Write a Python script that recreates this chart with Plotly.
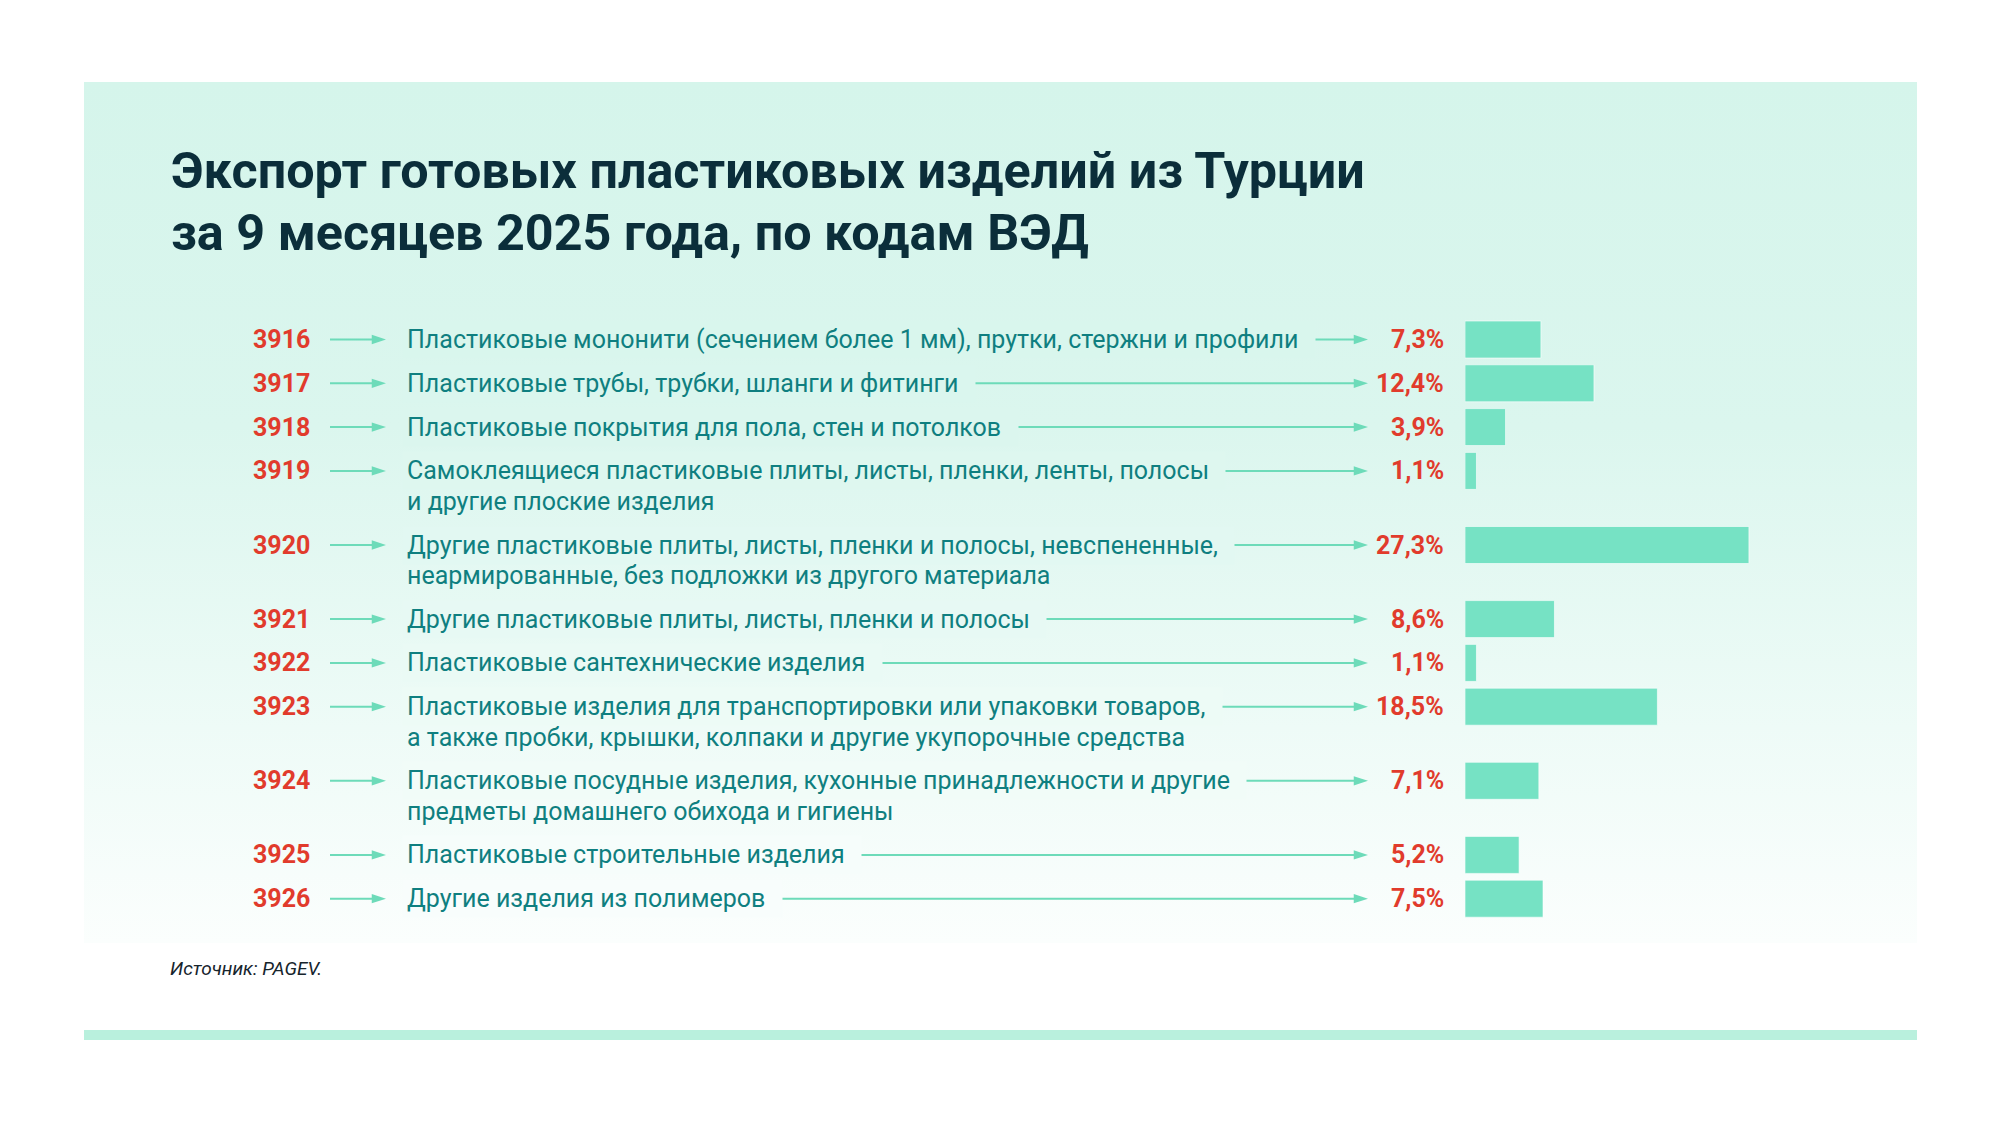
import plotly.graph_objects as go

# данные
codes = ["3916", "3917", "3918", "3919", "3920", "3921",
         "3922", "3923", "3924", "3925", "3926"]
descriptions = [
    "Пластиковые мононити (сечением более 1 мм), прутки, стержни и профили",
    "Пластиковые трубы, трубки, шланги и фитинги",
    "Пластиковые покрытия для пола, стен и потолков",
    "Самоклеящиеся пластиковые плиты, листы, пленки, ленты, полосы\nи другие плоские изделия",
    "Другие пластиковые плиты, листы, пленки и полосы, невспененные,\nнеармированные, без подложки из другого материала",
    "Другие пластиковые плиты, листы, пленки и полосы",
    "Пластиковые сантехнические изделия",
    "Пластиковые изделия для транспортировки или упаковки товаров,\nа также пробки, крышки, колпаки и другие укупорочные средства",
    "Пластиковые посудные изделия, кухонные принадлежности и другие\nпредметы домашнего обихода и гигиены",
    "Пластиковые строительные изделия",
    "Другие изделия из полимеров",
]
shares = [7.3, 12.4, 3.9, 1.1, 27.3, 8.6, 1.1, 18.5, 7.1, 5.2, 7.5]

title_lines = ["Экспорт готовых пластиковых изделий из Турции",
               "за 9 месяцев 2025 года, по кодам ВЭД"]
source = "Источник: PAGEV."

# оформление
W, H = 2000, 1125
PANEL_X0, PANEL_X1, PANEL_Y0, PANEL_Y1 = 84, 1917, 82, 943
ROW_START, ROW_STEP, EXTRA_LINE = 339.5, 43.8, 30.3
LINE_OFFSET = 30.5
CODE_X, LARROW_X0, LARROW_X1 = 251, 330, 386
DESC_X, RARROW_X1, PCT_X = 402, 1368, 1446
BAR_X0, PX_PER_PCT = 1465, 10.4
TITLE_X, TITLE_Y0, TITLE_STEP = 169, 170.5, 62

RED = "#e13b2c"
TEAL = "#0f7f80"
ARROW = "#6ddbb9"
BAR = "#76e2c4"
DARK = "#0b2e3a"
FONT = "Roboto"

grad_stops = [(0.0, (213, 245, 235)), (0.4, (219, 246, 238)),
              (0.75, (238, 251, 247)), (1.0, (251, 254, 253))]


def grad_color(y):
    t = (y - PANEL_Y0) / (PANEL_Y1 - PANEL_Y0)
    t = min(max(t, 0), 1)
    for (t0, c0), (t1, c1) in zip(grad_stops[:-1], grad_stops[1:]):
        if t <= t1:
            k = (t - t0) / (t1 - t0)
            c = [round(a + (b - a) * k) for a, b in zip(c0, c1)]
            return "rgb(%d,%d,%d)" % tuple(c)
    return "rgb(%d,%d,%d)" % grad_stops[-1][1]


# позиции строк
row_y = []
y = ROW_START
for d in descriptions:
    row_y.append(y)
    y += ROW_STEP + EXTRA_LINE * d.count("\n")

fig = go.Figure()

# фон-панель с градиентом
fig.add_trace(go.Scatter(
    x=[PANEL_X0, PANEL_X1, PANEL_X1, PANEL_X0, PANEL_X0],
    y=[PANEL_Y0, PANEL_Y0, PANEL_Y1, PANEL_Y1, PANEL_Y0],
    mode="lines", line=dict(width=0), fill="toself",
    fillgradient=dict(type="vertical",
                      colorscale=[[t, "rgb(%d,%d,%d)" % c] for t, c in grad_stops],
                      start=PANEL_Y0, stop=PANEL_Y1),
    hoverinfo="skip", showlegend=False))

# стрелки
lx, ly, rx, ry = [], [], [], []
for yy in row_y:
    lx += [LARROW_X0, LARROW_X1 - 6, None]
    ly += [yy, yy, None]
    rx += [DESC_X + 60, RARROW_X1 - 6, None]
    ry += [yy, yy, None]
for xs, ys, tip in [(lx, ly, LARROW_X1), (rx, ry, RARROW_X1)]:
    fig.add_trace(go.Scatter(x=xs, y=ys, mode="lines",
                             line=dict(color=ARROW, width=2),
                             hoverinfo="skip", showlegend=False))
    fig.add_trace(go.Scatter(x=[tip] * len(row_y), y=row_y, mode="markers",
                             marker=dict(symbol="arrow", angle=90, size=15,
                                         color=ARROW, line=dict(width=0)),
                             hoverinfo="skip", showlegend=False))

# столбики
fig.add_trace(go.Bar(
    x=shares, y=row_y, orientation="h", xaxis="x2", yaxis="y",
    width=37, marker=dict(color=BAR, line=dict(color="rgba(255,255,255,0.6)", width=1)),
    hoverinfo="skip", showlegend=False))

annotations = []
for code, d, v, yy in zip(codes, descriptions, shares, row_y):
    lines = d.split("\n")
    annotations.append(dict(
        x=DESC_X, y=yy, xref="x", yref="y", xanchor="left", yanchor="middle",
        text=lines[0] + "\u00a0\u00a0", showarrow=False,
        bgcolor=grad_color(yy), borderpad=4,
        font=dict(family=FONT, size=25, color=TEAL)))
    for i, ln in enumerate(lines[1:], start=1):
        annotations.append(dict(
            x=DESC_X, y=yy + LINE_OFFSET * i, xref="x", yref="y",
            xanchor="left", yanchor="middle", text=ln, showarrow=False,
            borderpad=4, font=dict(family=FONT, size=25, color=TEAL)))
    annotations.append(dict(
        x=CODE_X, y=yy, xref="x", yref="y", xanchor="left", yanchor="middle",
        text=code, showarrow=False,
        font=dict(family=FONT, size=25, color=RED, weight=700)))
    annotations.append(dict(
        x=PCT_X, y=yy, xref="x", yref="y", xanchor="right", yanchor="middle",
        text=("%.1f" % v).replace(".", ",") + "%", showarrow=False,
        font=dict(family=FONT, size=25, color=RED, weight=700)))

for i, t in enumerate(title_lines):
    annotations.append(dict(
        x=TITLE_X, y=TITLE_Y0 + TITLE_STEP * i, xref="x", yref="y",
        xanchor="left", yanchor="middle", text=t, showarrow=False,
        font=dict(family=FONT, size=50.3, color=DARK, weight=700)))
annotations.append(dict(
    x=168, y=968, xref="x", yref="y", xanchor="left", yanchor="middle",
    text=source, showarrow=False,
    font=dict(family=FONT, size=19, color="#16242c", style="italic")))

fig.update_layout(
    width=W, height=H,
    margin=dict(l=0, r=0, t=0, b=0),
    paper_bgcolor="white", plot_bgcolor="rgba(0,0,0,0)",
    xaxis=dict(range=[0, W], visible=False, domain=[0, 1], fixedrange=True),
    xaxis2=dict(range=[0, (W - BAR_X0) / PX_PER_PCT], visible=False,
                domain=[BAR_X0 / W, 1], anchor="y", fixedrange=True),
    yaxis=dict(range=[H, 0], visible=False, domain=[0, 1], fixedrange=True),
    shapes=[dict(type="rect", xref="x", yref="y", x0=PANEL_X0, x1=PANEL_X1,
                 y0=1030, y1=1040, fillcolor="#b9f0dd", line=dict(width=0),
                 layer="below")],
    annotations=annotations,
    showlegend=False,
)

fig.write_html("out.html", config={"displayModeBar": False},
               post_script="document.body.style.margin='0';document.body.style.overflow='hidden';")
